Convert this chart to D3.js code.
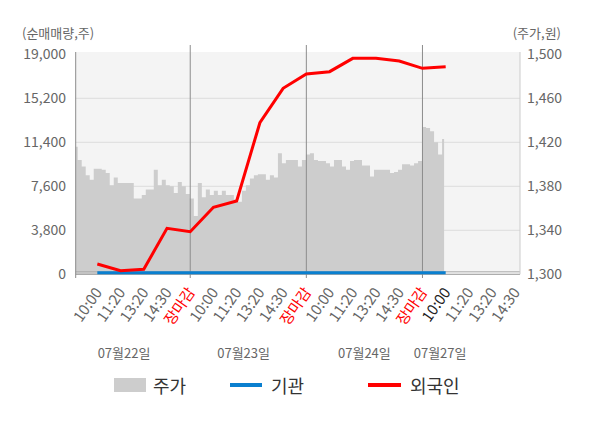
<!DOCTYPE html>
<html>
<head>
<meta charset="utf-8">
<script src="https://cdn.jsdelivr.net/npm/d3@7"></script>
<style>
  body { margin: 0; background: #fff; }
  text { font-family: "Noto Sans CJK KR", "Noto Sans", sans-serif; }
</style>
</head>
<body>
<div class="chart"></div>
<script>
// tick labels along the bottom, one per slot (slot 1..19)
var xLabels = ["10:00", "11:20", "13:20", "14:30", "장마감",
               "10:00", "11:20", "13:20", "14:30", "장마감",
               "10:00", "11:20", "13:20", "14:30", "장마감",
               "10:00", "11:20", "13:20", "14:30"];
var dayLabels = ["07월22일", "07월23일", "07월24일", "07월27일"];
var dayLabelSlots = [2.15, 7.3, 12.5, 15.76];
var daySeparators = [5, 10, 15];

// price (won), 29 samples per trading day, 6 for the last partial day
var priceDay1 = [1416, 1404, 1398, 1390, 1386, 1396, 1396, 1395, 1392, 1381,
                 1388, 1383, 1383, 1383, 1383, 1369, 1369, 1372, 1377, 1377,
                 1395, 1381, 1386, 1381, 1380, 1374, 1384, 1380, 1373];
var priceDay2 = [1369, 1353, 1383, 1370, 1377, 1372, 1376, 1372, 1376, 1372,
                 1372, 1368, 1366, 1376, 1381, 1387, 1390, 1391, 1391, 1386,
                 1390, 1388, 1410, 1401, 1404, 1404, 1404, 1398, 1404];
var priceDay3 = [1409, 1410, 1404, 1403, 1403, 1401, 1398, 1404, 1404, 1398,
                 1395, 1403, 1404, 1404, 1399, 1399, 1389, 1395, 1395, 1395,
                 1395, 1392, 1393, 1395, 1400, 1400, 1399, 1401, 1403];
var priceDay4 = [1434, 1433, 1430, 1420, 1409, 1423];

// cumulative net buying (shares) at each labelled slot 1..16
var foreignNet = [890, 310, 430, 3970, 3680, 5790, 6330, 13090, 16060,
                  17300, 17500, 18650, 18650, 18420, 17790, 17930];
var instNet = [130, 130, 130, 130, 130, 130, 130, 130, 130,
               130, 130, 130, 130, 130, 130, 130];

var leftTicks = [0, 3800, 7600, 11400, 15200, 19000];
var rightTicks = [1300, 1340, 1380, 1420, 1460, 1500];

var svgWidth = 600;
var svgHeight = 428;
var plot = { left: 75.7, right: 520, top: 52, bottom: 274.3 };

var svg = d3.select(".chart")
  .append("svg")
  .attr("width", svgWidth)
  .attr("height", svgHeight);

var x = d3.scaleLinear().domain([0, 19.2]).range([74.1, 520]);
var yLeft = d3.scaleLinear().domain([0, 19000]).range([274.3, 54.3]);
var yRight = d3.scaleLinear().domain([1300, 1500]).range([274.3, 54.3]);

// build price points: sample k of day d sits at slot 5d + (k + 0.4) * 5/29
var priceData = [];
[priceDay1, priceDay2, priceDay3, priceDay4].forEach(function(day, d) {
  day.forEach(function(p, k) {
    priceData.push({ slot: 5 * d + (k + 0.4) * 5 / 29, price: p });
  });
});

// plot background
svg.append("rect")
  .attr("x", plot.left)
  .attr("y", plot.top)
  .attr("width", plot.right - plot.left)
  .attr("height", plot.bottom - plot.top)
  .attr("fill", "#f4f4f4");

// horizontal grid
svg.selectAll(".grid")
  .data(leftTicks.slice(1, -1))
  .enter()
  .append("line")
  .attr("x1", plot.left)
  .attr("x2", plot.right)
  .attr("y1", d => yLeft(d))
  .attr("y2", d => yLeft(d))
  .attr("stroke", "#dcdcdc");

// price area
var area = d3.area()
  .x(d => x(d.slot))
  .y0(yRight(1300))
  .y1(d => yRight(d.price))
  .curve(d3.curveStep);

svg.append("path")
  .datum(priceData)
  .attr("d", area)
  .attr("fill", "#cdcdcd");

// bottom lines
svg.append("line")
  .attr("x1", plot.left).attr("x2", plot.right)
  .attr("y1", 271.8).attr("y2", 271.8)
  .attr("stroke", "#aaa");
svg.append("line")
  .attr("x1", plot.left).attr("x2", plot.right)
  .attr("y1", 274.3).attr("y2", 274.3)
  .attr("stroke", "#999");

// day separators
svg.selectAll(".sep")
  .data(daySeparators)
  .enter()
  .append("line")
  .attr("x1", d => x(d))
  .attr("x2", d => x(d))
  .attr("y1", 45)
  .attr("y2", 278)
  .attr("stroke", "#8c8c8c");

// left / right axis lines
svg.append("line")
  .attr("x1", plot.left).attr("x2", plot.left)
  .attr("y1", plot.top).attr("y2", 278)
  .attr("stroke", "#8c8c8c");
svg.append("line")
  .attr("x1", plot.right).attr("x2", plot.right)
  .attr("y1", plot.top).attr("y2", 274.3)
  .attr("stroke", "#ccc");

// institution & foreigner lines
var line = d3.line()
  .x((d, i) => x(i + 1))
  .y(d => yLeft(d));

svg.append("path")
  .datum(instNet)
  .attr("d", line)
  .attr("fill", "none")
  .attr("stroke", "#0a7fcf")
  .attr("stroke-width", 3);

svg.append("path")
  .datum(foreignNet)
  .attr("d", line)
  .attr("fill", "none")
  .attr("stroke", "#ff0000")
  .attr("stroke-width", 3);

// left axis labels
var leftAxis = svg.append("g")
  .attr("transform", "translate(66,0)")
  .call(d3.axisLeft(yLeft).tickValues(leftTicks).tickSize(0).tickPadding(0)
    .tickFormat(d3.format(",")));
leftAxis.select(".domain").remove();
leftAxis.selectAll("text")
  .attr("fill", "#666")
  .style("font-size", "14px");

// right axis labels
var rightAxis = svg.append("g")
  .attr("transform", "translate(527,0)")
  .call(d3.axisRight(yRight).tickValues(rightTicks).tickSize(0).tickPadding(0)
    .tickFormat(d3.format(",")));
rightAxis.select(".domain").remove();
rightAxis.selectAll("text")
  .attr("fill", "#666")
  .style("font-size", "14px");

// unit labels
svg.append("text")
  .attr("x", 22)
  .attr("y", 38)
  .attr("fill", "#666")
  .style("font-size", "13px")
  .text("(순매매량,주)");
svg.append("text")
  .attr("x", 561)
  .attr("y", 38)
  .attr("text-anchor", "end")
  .attr("fill", "#666")
  .style("font-size", "13px")
  .text("(주가,원)");

// bottom axis, rotated labels
var bottomAxis = svg.append("g")
  .attr("transform", "translate(0,274.3)")
  .call(d3.axisBottom(x).tickValues(d3.range(1, 20)).tickSize(0)
    .tickFormat(d => xLabels[d - 1]));
bottomAxis.select(".domain").remove();
bottomAxis.selectAll("text")
  .attr("x", 0)
  .attr("y", 0)
  .attr("dy", null)
  .attr("text-anchor", "end")
  .attr("transform", "translate(5,18) rotate(-55)")
  .style("font-size", "15px")
  .attr("fill", (d, i) => xLabels[i] === "장마감" ? "#ff0000" : (i === 15 ? "#222" : "#666"));

// date labels
svg.selectAll(".day")
  .data(dayLabels)
  .enter()
  .append("text")
  .attr("x", (d, i) => x(dayLabelSlots[i]))
  .attr("y", 358)
  .attr("text-anchor", "middle")
  .attr("fill", "#666")
  .style("font-size", "13px")
  .text(d => d);

// legend
var legend = svg.append("g");
legend.append("rect")
  .attr("x", 114).attr("y", 378)
  .attr("width", 32).attr("height", 14)
  .attr("fill", "#cdcdcd");
legend.append("text")
  .attr("x", 153).attr("y", 385)
  .attr("dominant-baseline", "central")
  .attr("fill", "#333")
  .style("font-size", "18px")
  .text("주가");
legend.append("line")
  .attr("x1", 230).attr("x2", 262)
  .attr("y1", 385).attr("y2", 385)
  .attr("stroke", "#0a7fcf").attr("stroke-width", 4);
legend.append("text")
  .attr("x", 271).attr("y", 385)
  .attr("dominant-baseline", "central")
  .attr("fill", "#333")
  .style("font-size", "18px")
  .text("기관");
legend.append("line")
  .attr("x1", 368).attr("x2", 401)
  .attr("y1", 385).attr("y2", 385)
  .attr("stroke", "#ff0000").attr("stroke-width", 4);
legend.append("text")
  .attr("x", 410).attr("y", 385)
  .attr("dominant-baseline", "central")
  .attr("fill", "#333")
  .style("font-size", "18px")
  .text("외국인");
</script>
</body>
</html>
